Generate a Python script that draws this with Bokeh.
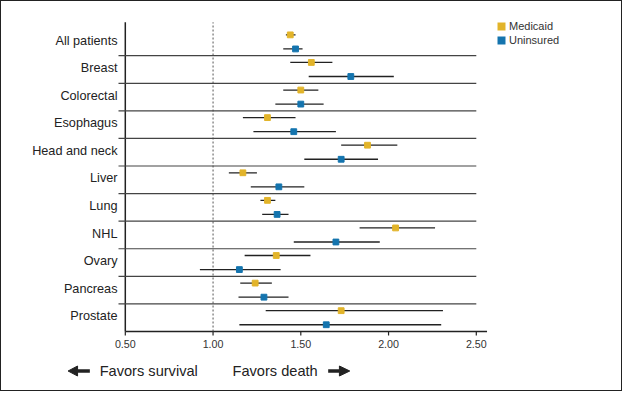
from bokeh.plotting import figure
from bokeh.models import Range1d, Legend, LegendItem, ColumnDataSource
from bokeh.core.properties import value
from bokeh.transform import dodge
from bokeh.embed import file_html
from bokeh.resources import INLINE

# ---------------- data ----------------
categories = ["All patients", "Breast", "Colorectal", "Esophagus", "Head and neck",
              "Liver", "Lung", "NHL", "Ovary", "Pancreas", "Prostate"]
medicaid_or = [1.44, 1.56, 1.50, 1.31, 1.88, 1.17, 1.31, 2.04, 1.36, 1.24, 1.73]
medicaid_lo = [1.415, 1.44, 1.40, 1.17, 1.73, 1.09, 1.27, 1.835, 1.18, 1.155, 1.30]
medicaid_hi = [1.47, 1.68, 1.60, 1.47, 2.05, 1.25, 1.355, 2.265, 1.555, 1.335, 2.31]
uninsured_or = [1.47, 1.785, 1.50, 1.46, 1.73, 1.375, 1.365, 1.70, 1.15, 1.29, 1.645]
uninsured_lo = [1.40, 1.545, 1.355, 1.23, 1.52, 1.215, 1.28, 1.46, 0.925, 1.145, 1.15]
uninsured_hi = [1.51, 2.03, 1.63, 1.70, 1.94, 1.52, 1.43, 1.95, 1.385, 1.43, 2.30]
x_ticks = [0.5, 1.0, 1.5, 2.0, 2.5]
x_tick_labels = ["0.50", "1.00", "1.50", "2.00", "2.50"]
reference_or = 1.0
series_names = ["Medicaid", "Uninsured"]
left_text = "Favors survival"
right_text = "Favors death"

# ---------------- layout / styles ----------------
GOLD = "#E2B42A"
BLUE = "#1474AE"
DARK = "#222222"
FONT = "Liberation Sans"

W, H = 622, 391
MR = 4
frame_w = W - MR
frame_h = H
px_x = 175.5          # pixels per unit on x
row_px = 27.58        # pixels per category row
axis_px_x = 123.8     # pixel column of the y-axis line (x = 0.5)
axis_px = 330         # pixel row (from top) of the x-axis line
x_start = x_ticks[0] - axis_px_x / px_x
sep_left = x_ticks[0] - 6.8 / px_x
label_right = x_ticks[0] - 7.8 / px_x
y_axis = -0.5
y_start = y_axis - (frame_h - axis_px) / row_px
y_top_line = y_axis + (axis_px - 20.8) / row_px
x_axis_end = x_ticks[-1] + 11 / 180

n = len(categories)
ypos = [n - 1 - i for i in range(n)]
seps = [k + 0.5 for k in range(n - 1)]

p = figure(width=W, height=H,
           x_range=Range1d(x_start, x_start + frame_w / px_x),
           y_range=Range1d(y_start, y_start + frame_h / row_px),
           x_axis_location=None, y_axis_location=None,
           output_backend="svg", toolbar_location=None,
           min_border_left=0, min_border_right=MR,
           min_border_top=0, min_border_bottom=0)
p.styles = {"border": "1px solid #222"}
p.outline_line_color = None
p.xgrid.visible = False
p.ygrid.visible = False
p.background_fill_color = "white"
p.border_fill_color = "white"

# category labels
p.text(x=[label_right] * n, y=[yv + 0.05 for yv in ypos], text=categories,
       text_font=value(FONT), text_font_size="12.7px", text_color=DARK,
       text_align="right", text_baseline="middle")

# x axis
p.segment(x0=[x_ticks[0]], x1=[x_axis_end], y0=[y_axis], y1=[y_axis],
          line_color=DARK, line_width=1.5)
p.segment(x0=x_ticks, x1=x_ticks, y0=[y_axis] * len(x_ticks),
          y1=[y_axis - 4 / row_px] * len(x_ticks), line_color=DARK, line_width=1.2)
p.text(x=x_ticks, y=[y_axis - 12.1 / row_px] * len(x_ticks), text=x_tick_labels,
       text_font=value(FONT), text_font_size="10.7px", text_color="#333333",
       text_align="center", text_baseline="middle")

# vertical axis line and dotted reference line
p.segment(x0=[x_ticks[0]], x1=[x_ticks[0]], y0=[y_axis], y1=[y_top_line],
          line_color=DARK, line_width=1.5)
p.segment(x0=[reference_or], x1=[reference_or], y0=[y_axis], y1=[y_top_line],
          line_color="#555555", line_width=1, line_dash="2 2")

# row separators
p.segment(x0=sep_left, x1=x_ticks[-1], y0=seps, y1=seps, line_color="#444444", line_width=1.2)

src = ColumnDataSource(dict(y=ypos,
                            m_or=medicaid_or, m_lo=medicaid_lo, m_hi=medicaid_hi,
                            u_or=uninsured_or, u_lo=uninsured_lo, u_hi=uninsured_hi))

off = 0.255
legend_renderers = []
for pre, d, col in [("m", off, GOLD), ("u", -off, BLUE)]:
    p.segment(x0=pre + "_lo", x1=pre + "_hi", y0=dodge("y", d), y1=dodge("y", d),
              source=src, line_color=DARK, line_width=1.3)
    p.scatter(x=pre + "_or", y=dodge("y", d), source=src, marker="square", size=5.8,
              fill_color=col, line_color=col)
    # zero-size rects used only for the legend swatch
    legend_renderers.append(p.rect(x=pre + "_or", y="y", width=0, height=0, source=src,
                                   fill_color=col, line_color=None))

legend = Legend(items=[LegendItem(label=series_names[0], renderers=[legend_renderers[0]]),
                       LegendItem(label=series_names[1], renderers=[legend_renderers[1]])],
                location=(495, frame_h - 45), glyph_width=10, glyph_height=10,
                label_height=12, spacing=2, padding=0, margin=0,
                border_line_color=None, background_fill_alpha=0,
                label_text_font=FONT, label_text_font_size="11px",
                label_text_color="#333333", label_standoff=3)
p.add_layout(legend)

# bottom direction texts and arrows
ty = y_axis - 39.5 / row_px
p.text(x=[0.354, 1.111], y=[ty, ty], text=[left_text, right_text],
       text_font=value(FONT), text_font_size="14.6px", text_color=DARK,
       text_align="left", text_baseline="middle")
head_half = 5 / row_px
arrows = [(0.298, 0.228, 0.174), (1.656, 1.72, 1.779)]   # tail, head base, tip
p.segment(x0=[a[0] for a in arrows], x1=[a[1] for a in arrows], y0=[ty, ty], y1=[ty, ty],
          line_color=DARK, line_width=3.5)
p.patches(xs=[[a[2], a[1], a[1]] for a in arrows],
          ys=[[ty, ty + head_half, ty - head_half] for a in arrows],
          fill_color=DARK, line_color=DARK, line_width=1)

open("out.html", "w").write(file_html(p, INLINE))
